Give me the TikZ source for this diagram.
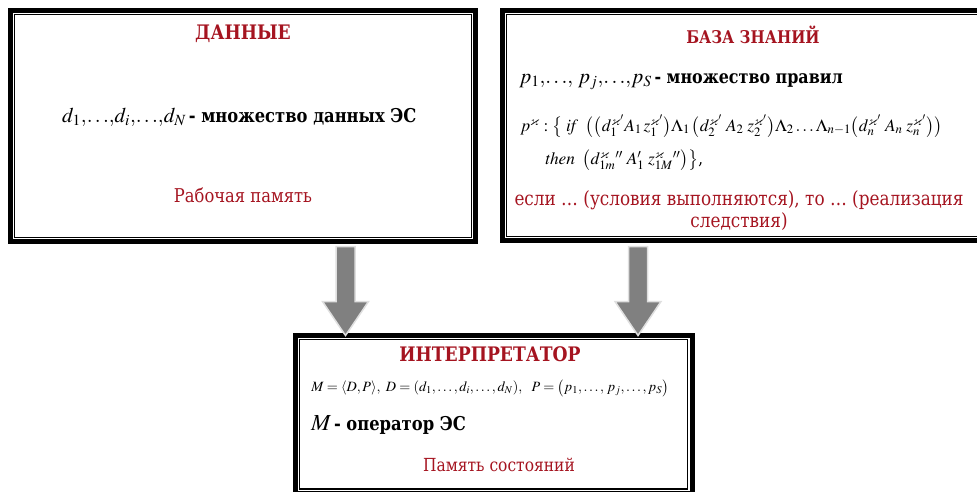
\documentclass[tikz,border=0pt]{standalone}
\usepackage{amsmath,amssymb}
\usepackage{mathptmx}
\usepackage{fontspec}
\setmainfont{DejaVu Serif}[FakeStretch=0.86]
\usetikzlibrary{positioning}
\definecolor{esred}{RGB}{165,20,32}

\begin{document}
\begin{tikzpicture}[
  x=1pt, y=-1pt,
  box/.style={draw, line width=5pt, outer sep=0pt, inner sep=0pt},
  inner/.style={draw, line width=1.3pt},
  title/.style={text=esred, font=\fontsize{20}{22}\selectfont\bfseries, inner sep=0pt},
  redtext/.style={text=esred, font=\fontsize{19}{22}\selectfont, inner sep=0pt, align=center},
  formula/.style={font=\fontsize{17.3}{19}\selectfont, inner sep=0pt, anchor=west},
  fatarrow/.style={fill=gray!100!black, draw=gray!25, line width=1.5pt, line join=miter}
]
  \useasboundingbox (0,0) rectangle (977,491);
  \clip (0,0) rectangle (977,491);

  % three blocks
  \node[box, minimum width=465pt, minimum height=231pt] (data) at (243,126) {};
  \node[box, minimum width=479.5pt, minimum height=230pt] (kb) at (742.25,125.5) {};
  \node[box, minimum width=396.5pt, minimum height=157.8pt] (interp) at (493.75,414.4) {};
  \foreach \b in {data,kb,interp}
    \draw[inner] ([shift={(4.3pt,-4.3pt)}]\b.north west) rectangle ([shift={(-4.3pt,4.3pt)}]\b.south east);
  \coordinate (kbtop) at (753,10.5);
  \coordinate (interptop) at (490,335.5);

  % data
  \node[title, below=14pt of data.north] (datatitle) {ДАННЫЕ};
  \node[anchor=west, inner sep=0pt] (dataset) at (62,117)
    {{\fontsize{21}{24}\selectfont$d_1{,}{\ldots}{,}d_i{,}{\ldots}{,}d_N$} {\fontsize{19}{20}\selectfont\bfseries - множество данных ЭС}};
  \node[redtext] (workmem) at (243,195) {Рабочая память};

  % knowledge base
  \node[title, font=\fontsize{17.5}{20}\selectfont\bfseries, below=15pt of kbtop] (kbtitle) {БАЗА ЗНАНИЙ};
  \node[anchor=west, inner sep=0pt] (rules) at (519,82)
    {{\fontsize{21}{24}\selectfont$p_1{,}{\ldots}{,}\;p_j{,}{\ldots}{,}p_S$} {\fontsize{18.5}{20}\selectfont\bfseries - множество правил}};
  \node[formula] (ruleif) at (520,126)
    {$p^{\varkappa}:\big\{\;\mathit{if}\;\;\big(\big(d_1^{\varkappa'}A_1\,z_1^{\varkappa'}\big)\Lambda_1\,\big(d_2^{\varkappa'}\;A_2\;z_2^{\varkappa'}\big)\Lambda_2\ldots\Lambda_{n-1}\big(d_n^{\varkappa'}\;A_n\;z_n^{\varkappa'}\big)\big)$};
  \node[formula] (rulethen) at (545,160)
    {$\mathit{then}\;\;\big(d_{1m}^{\varkappa}{}''\;A_1'\;z_{1M}^{\varkappa}{}''\big)\big\}$,};
  \node[redtext, font=\fontsize{19.6}{22}\selectfont] (ifthen) at (739,211) {если \ldots\ (условия выполняются), то \ldots\ (реализация\\следствия)};

  % interpreter
  \node[title, below=11pt of interptop] (interptitle) {ИНТЕРПРЕТАТОР};
  \node[font=\fontsize{14.2}{16}\selectfont, inner sep=0pt] (model) at (490,388)
    {$M=\langle D,P\rangle,\ D=(d_1,\ldots,d_i,\ldots,d_N),\ \ P=\big(p_1,\ldots,\,p_j,\ldots,p_S\big)$};
  \node[anchor=west, inner sep=0pt] (operator) at (311,425)
    {{\fontsize{23}{26}\selectfont$M$} {\fontsize{19}{20}\selectfont\bfseries - оператор ЭС}};
  \node[redtext, font=\fontsize{18}{22}\selectfont] (statemem) at (499,465) {Память состояний};

  % flows into the interpreter
  \coordinate (dataflow) at ([xshift=50pt]interp.north west);
  \coordinate (kbflow) at ([xshift=-54pt]interp.north east);
  \foreach \t in {dataflow,kbflow}
    \draw[fatarrow] (\t) -- ++(-23,-34) -- ++(13.5,0) -- ++(0,-55) -- ++(19,0)
      -- ++(0,55) -- ++(13.5,0) -- cycle;
\end{tikzpicture}
\end{document}
